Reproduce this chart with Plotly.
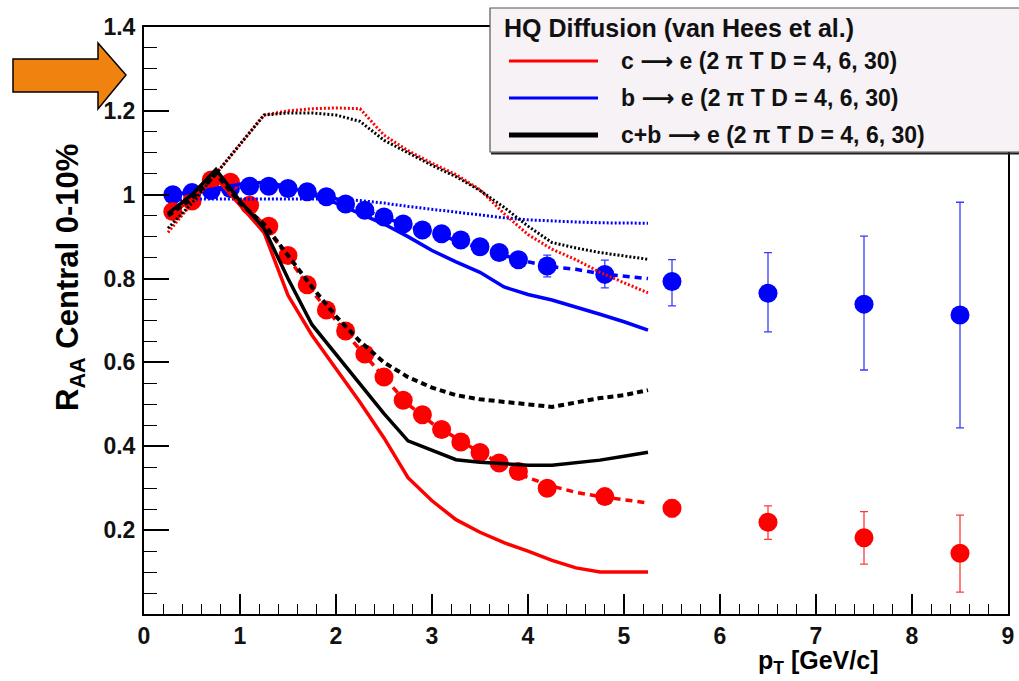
import plotly.graph_objects as go

# ---------------- data ----------------
pt_data = [0.3, 0.5, 0.7, 0.9, 1.1, 1.3, 1.5, 1.7, 1.9, 2.1, 2.3, 2.5, 2.7, 2.9,
           3.1, 3.3, 3.5, 3.7, 3.9, 4.2, 4.8, 5.5, 6.5, 7.5, 8.5]
raa_red = [0.96, 0.985, 1.035, 1.03, 0.975, 0.925, 0.855, 0.785, 0.725, 0.675,
           0.62, 0.565, 0.51, 0.475, 0.44, 0.41, 0.385, 0.36, 0.34, 0.30, 0.28,
           0.252, 0.219, 0.182, 0.145]
err_red_up = [0.01] * 19 + [0.015, 0.015, 0.02, 0.039, 0.062, 0.091]
err_red_dn = [0.01] * 19 + [0.015, 0.015, 0.02, 0.041, 0.063, 0.093]
raa_blue = [1.0, 1.005, 1.01, 1.015, 1.02, 1.02, 1.015, 1.007, 0.995, 0.978,
            0.963, 0.947, 0.93, 0.916, 0.907, 0.892, 0.876, 0.862, 0.845, 0.83,
            0.81, 0.793, 0.765, 0.739, 0.713]
err_blue_up = [0.01] * 19 + [0.026, 0.034, 0.052, 0.097, 0.162, 0.269]
err_blue_dn = [0.01] * 19 + [0.026, 0.032, 0.058, 0.092, 0.157, 0.269]

pt_model = [0.25, 0.5, 0.75, 1.0, 1.25, 1.5, 1.75, 2.0, 2.25, 2.5, 2.75, 3.0,
            3.25, 3.5, 3.75, 4.0, 4.25, 4.5, 4.75, 5.0, 5.25]
c_D4 = [0.95, 0.99, 1.04, 0.975, 0.91, 0.76, 0.665, 0.585, 0.505, 0.42, 0.325,
        0.27, 0.225, 0.195, 0.17, 0.15, 0.128, 0.11, 0.1, 0.1, 0.1]
c_D6 = [0.95, 0.99, 1.04, 0.98, 0.93, 0.85, 0.77, 0.70, 0.63, 0.565, 0.50,
        0.455, 0.42, 0.385, 0.355, 0.325, 0.305, 0.29, 0.28, 0.272, 0.265]
c_D30 = [0.91, 0.98, 1.05, 1.12, 1.19, 1.2, 1.205, 1.207, 1.205, 1.142, 1.105,
         1.075, 1.048, 1.012, 0.955, 0.905, 0.87, 0.845, 0.815, 0.79, 0.766]
b_D4 = [1.0, 1.005, 1.015, 1.025, 1.03, 1.02, 1.0, 0.98, 0.955, 0.93, 0.9,
        0.867, 0.84, 0.815, 0.78, 0.762, 0.749, 0.733, 0.715, 0.697, 0.677]
b_D6 = [1.0, 1.005, 1.012, 1.018, 1.022, 1.018, 1.005, 0.99, 0.968, 0.947,
        0.925, 0.91, 0.89, 0.872, 0.855, 0.84, 0.828, 0.822, 0.812, 0.806, 0.80]
b_D30 = [0.985, 0.99, 0.99, 0.99, 0.99, 0.99, 0.99, 0.99, 0.986, 0.98, 0.972,
         0.965, 0.958, 0.952, 0.945, 0.94, 0.937, 0.935, 0.933, 0.932, 0.932]
cb_D4 = [0.955, 1.0, 1.06, 0.985, 0.92, 0.80, 0.69, 0.62, 0.55, 0.478, 0.413,
         0.39, 0.368, 0.362, 0.358, 0.355, 0.355, 0.36, 0.367, 0.376, 0.386]
cb_D6 = [0.95, 0.99, 1.05, 0.98, 0.93, 0.855, 0.78, 0.71, 0.65, 0.60, 0.565,
         0.54, 0.522, 0.512, 0.505, 0.50, 0.494, 0.505, 0.515, 0.522, 0.534]
cb_D30 = [0.92, 0.98, 1.05, 1.12, 1.19, 1.195, 1.195, 1.19, 1.175, 1.13, 1.1,
          1.07, 1.043, 1.01, 0.97, 0.925, 0.886, 0.873, 0.862, 0.854, 0.846]

x_ticks = [0, 1, 2, 3, 4, 5, 6, 7, 8, 9]
y_ticks = [0.2, 0.4, 0.6, 0.8, 1.0, 1.2, 1.4]
y_ticktext = ["0.2", "0.4", "0.6", "0.8", "1", "1.2", "1.4"]

legend_title = "HQ Diffusion (van Hees et al.)"
legend_labels = ["c \u27f6 e (2 \u03c0 T D = 4, 6, 30)",
                 "b \u27f6 e (2 \u03c0 T D = 4, 6, 30)",
                 "c+b \u27f6 e (2 \u03c0 T D = 4, 6, 30)"]
legend_colors = ["#ff0000", "#0000ff", "#000000"]
legend_widths = [3, 3, 5]

RED = "#ff0000"
BLUE = "#0000ff"
BLACK = "#000000"
FONT = "Liberation Sans, Arial, DejaVu Sans, sans-serif"

# --------------- layout geometry (pixels) ---------------
W, H = 1019, 681
ML, MR, MT, MB = 144, 11, 27, 67
PW, PH = W - ML - MR, H - MT - MB


def px(x):
    return (x - ML) / PW


def py(y):
    return (H - MB - y) / PH


fig = go.Figure()

# data points
fig.add_trace(go.Scatter(
    x=pt_data, y=raa_blue, mode="markers",
    marker=dict(symbol="circle", size=19, color=BLUE),
    error_y=dict(type="data", symmetric=False, array=err_blue_up,
                 arrayminus=err_blue_dn, color="#3a3aff", thickness=1.3, width=4),
    showlegend=False))
fig.add_trace(go.Scatter(
    x=pt_data, y=raa_red, mode="markers",
    marker=dict(symbol="circle", size=19, color=RED),
    error_y=dict(type="data", symmetric=False, array=err_red_up,
                 arrayminus=err_red_dn, color="#ff3a3a", thickness=1.3, width=4),
    showlegend=False))

# model curves
curves = [
    (b_D30, BLUE, 3, "2px,2px"),
    (b_D6, BLUE, 3.5, "7px,5px"),
    (b_D4, BLUE, 3.5, "solid"),
    (c_D30, RED, 3, "2px,2px"),
    (c_D6, RED, 3.5, "7px,5px"),
    (c_D4, RED, 3.5, "solid"),
    (cb_D30, BLACK, 3, "2px,2px"),
    (cb_D6, BLACK, 4, "6px,4px"),
    (cb_D4, BLACK, 3.5, "solid"),
]
for yv, col, w, dash in curves:
    fig.add_trace(go.Scatter(x=pt_model, y=yv, mode="lines",
                             line=dict(color=col, width=w, dash=dash),
                             showlegend=False, hoverinfo="skip"))

shapes = []
annotations = []

# legend box
shapes.append(dict(type="rect", xref="paper", yref="paper",
                   x0=px(490), x1=px(1040), y0=py(152), y1=py(8),
                   fillcolor="#f6f2f6", line=dict(color="#555555", width=1.2),
                   layer="above"))
shapes.append(dict(type="line", xref="paper", yref="paper",
                   x0=px(491), x1=px(1040), y0=py(153.5), y1=py(153.5),
                   line=dict(color="#222222", width=2), layer="above"))
annotations.append(dict(text="<b>" + legend_title + "</b>", xref="paper", yref="paper",
                        x=px(502), y=py(28), xanchor="left", yanchor="middle",
                        showarrow=False, font=dict(family=FONT, size=25, color="#111111")))
for i, (lab, col, lw) in enumerate(zip(legend_labels, legend_colors, legend_widths)):
    yy = 61 + 37 * i
    shapes.append(dict(type="line", xref="paper", yref="paper",
                       x0=px(509), x1=px(598), y0=py(yy), y1=py(yy),
                       line=dict(color=col, width=lw), layer="above"))
    annotations.append(dict(text="<b>" + lab + "</b>", xref="paper", yref="paper",
                            x=px(619), y=py(yy), xanchor="left", yanchor="middle",
                            showarrow=False,
                            font=dict(family=FONT, size=23, color="#111111")))

# orange arrow
pts = [(13, 59), (98, 59), (98, 43), (126, 75), (98, 109), (98, 92), (13, 92)]
path = "M " + " L ".join(f"{px(a):.5f},{py(b):.5f}" for a, b in pts) + " Z"
shapes.append(dict(type="path", xref="paper", yref="paper", path=path,
                   fillcolor="#f0820f", line=dict(color="#000000", width=1.5),
                   layer="above"))

# axis titles
annotations.append(dict(text="<b>p<sub>T</sub> [GeV/c]</b>", xref="paper", yref="paper",
                        x=px(880), y=py(662), xanchor="right", yanchor="middle",
                        showarrow=False, font=dict(family=FONT, size=25, color="#000000")))
annotations.append(dict(text="<b>R<sub>AA</sub> Central 0-10%</b>", xref="paper", yref="paper",
                        x=px(70), y=py(278), xanchor="center", yanchor="middle",
                        textangle=-90, showarrow=False,
                        font=dict(family=FONT, size=31, color="#000000")))

fig.update_layout(
    width=W, height=H,
    margin=dict(l=ML, r=MR, t=MT, b=MB, autoexpand=False),
    paper_bgcolor="white", plot_bgcolor="white",
    shapes=shapes, annotations=annotations,
    showlegend=False,
    xaxis=dict(range=[0, 9], tickvals=x_ticks, ticks="inside", ticklen=20,
               tickwidth=1.5, tickcolor="black", showline=True, linewidth=2,
               linecolor="black", mirror=True, showgrid=False, zeroline=False,
               automargin=False, ticklabelstandoff=0,
               tickfont=dict(family=FONT, size=23, color="#111111", weight="bold"),
               minor=dict(dtick=0.2, ticks="inside", ticklen=10, tickwidth=1,
                          tickcolor="black", showgrid=False)),
    yaxis=dict(range=[0, 1.4], tickvals=y_ticks, ticktext=y_ticktext,
               ticks="inside", ticklen=25, tickwidth=1.5, tickcolor="black",
               showline=True, linewidth=2, linecolor="black", mirror=True,
               showgrid=False, zeroline=False, automargin=False,
               ticklabelstandoff=2,
               tickfont=dict(family=FONT, size=23, color="#111111", weight="bold"),
               minor=dict(dtick=0.05, tick0=0, ticks="inside", ticklen=13,
                          tickwidth=1, tickcolor="black", showgrid=False)),
)

fig.write_html("out.html",
               config={"displayModeBar": False},
               post_script="document.body.style.margin='0px';"
                           "document.body.style.overflow='hidden';")
